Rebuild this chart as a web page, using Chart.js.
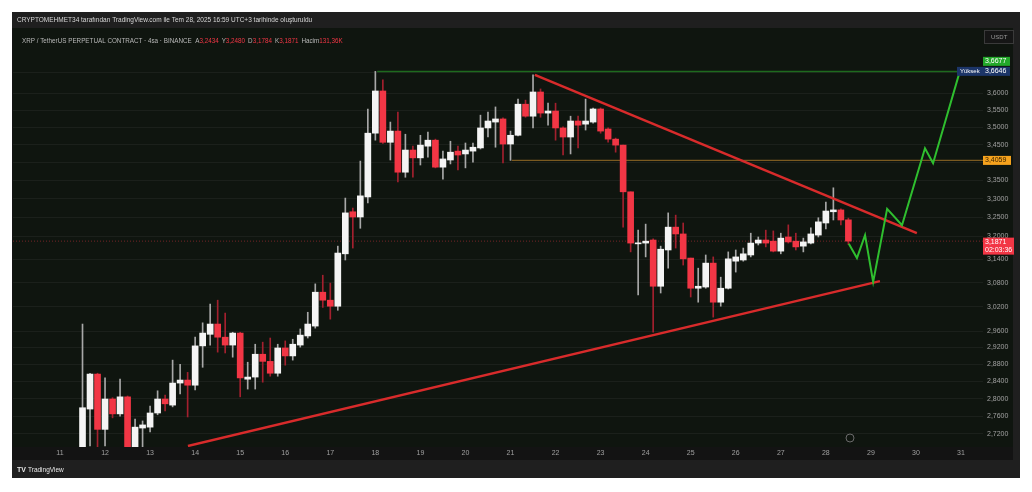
<!DOCTYPE html>
<html>
<head>
<meta charset="utf-8">
<script src="https://cdn.jsdelivr.net/npm/chart.js@4.4.1/dist/chart.umd.min.js"></script>
<style>
html, body { margin: 0; padding: 0; background: #ffffff; }
#wrap { width: 1032px; height: 492px; }
</style>
</head>
<body>
<div id="wrap"><canvas id="xrpChart" width="1032" height="492"></canvas></div>
<script>
// XRP / USDT 4 saatlik mumlar, 11 Tem 12:00 -> 28 Tem 12:00
const firstCandleDay = 11.5;
const candleStep = 1 / 6;

const opens = [
    2.680, 2.776, 2.857, 2.730, 2.799, 2.765, 2.804, 2.686, 2.733, 2.735,
    2.767, 2.799, 2.785, 2.836, 2.843, 2.831, 2.924, 2.952, 2.977, 2.945,
    2.926, 2.955, 2.845, 2.850, 2.904, 2.887, 2.859, 2.919, 2.900, 2.926,
    2.948, 2.972, 3.056, 3.036, 3.021, 3.154, 3.265, 3.251, 3.305, 3.483,
    3.606, 3.457, 3.489, 3.373, 3.435, 3.413, 3.446, 3.463, 3.387, 3.407,
    3.432, 3.424, 3.432, 3.441, 3.498, 3.515, 3.524, 3.452, 3.477, 3.567,
    3.532, 3.603, 3.541, 3.547, 3.498, 3.472, 3.518, 3.509, 3.515, 3.553,
    3.495, 3.466, 3.449, 3.319, 3.180, 3.182, 3.190, 3.071, 3.164, 3.224,
    3.206, 3.143, 3.066, 3.069, 3.130, 3.031, 3.066, 3.135, 3.138, 3.151,
    3.182, 3.190, 3.187, 3.161, 3.198, 3.187, 3.174, 3.182, 3.203, 3.235,
    3.265, 3.270, 3.2434
];
const highs = [
    2.977, 2.859, 2.859, 2.848, 2.802, 2.845, 2.806, 2.753, 2.749, 2.783,
    2.818, 2.808, 2.890, 2.880, 2.861, 2.945, 2.980, 3.026, 3.036, 3.004,
    2.957, 2.957, 2.885, 2.928, 2.933, 2.943, 2.928, 2.936, 2.940, 2.965,
    3.006, 3.077, 3.099, 3.079, 3.174, 3.302, 3.275, 3.404, 3.553, 3.6646,
    3.639, 3.515, 3.544, 3.480, 3.446, 3.477, 3.486, 3.466, 3.432, 3.460,
    3.446, 3.455, 3.455, 3.535, 3.544, 3.559, 3.527, 3.489, 3.582, 3.579,
    3.654, 3.612, 3.570, 3.570, 3.501, 3.532, 3.532, 3.582, 3.556, 3.556,
    3.498, 3.469, 3.449, 3.319, 3.216, 3.232, 3.193, 3.174, 3.262, 3.256,
    3.235, 3.143, 3.117, 3.151, 3.146, 3.094, 3.159, 3.164, 3.169, 3.208,
    3.198, 3.216, 3.214, 3.208, 3.230, 3.208, 3.195, 3.222, 3.249, 3.291,
    3.330, 3.273, 3.2480
];
const lows = [
    2.662, 2.693, 2.691, 2.693, 2.756, 2.760, 2.673, 2.680, 2.691, 2.724,
    2.763, 2.772, 2.781, 2.811, 2.758, 2.820, 2.873, 2.926, 2.909, 2.907,
    2.897, 2.804, 2.822, 2.822, 2.838, 2.852, 2.852, 2.878, 2.890, 2.921,
    2.943, 2.967, 3.018, 2.989, 3.011, 3.138, 3.169, 3.221, 3.289, 3.463,
    3.454, 3.407, 3.346, 3.359, 3.359, 3.393, 3.415, 3.385, 3.354, 3.396,
    3.379, 3.385, 3.401, 3.438, 3.472, 3.443, 3.399, 3.4059, 3.475, 3.529,
    3.498, 3.529, 3.506, 3.463, 3.421, 3.424, 3.441, 3.492, 3.512, 3.483,
    3.457, 3.429, 3.224, 3.159, 3.049, 3.146, 2.957, 3.054, 3.117, 3.169,
    3.125, 3.044, 3.031, 3.066, 2.994, 3.021, 3.064, 3.107, 3.135, 3.146,
    3.177, 3.172, 3.159, 3.154, 3.182, 3.164, 3.159, 3.180, 3.198, 3.219,
    3.243, 3.230, 3.1784
];
const closes = [
    2.779, 2.857, 2.730, 2.799, 2.765, 2.804, 2.684, 2.735, 2.740, 2.767,
    2.799, 2.788, 2.836, 2.843, 2.831, 2.924, 2.955, 2.977, 2.945, 2.926,
    2.955, 2.848, 2.850, 2.904, 2.887, 2.859, 2.919, 2.900, 2.928, 2.950,
    2.977, 3.056, 3.036, 3.021, 3.156, 3.262, 3.251, 3.308, 3.483, 3.606,
    3.457, 3.489, 3.373, 3.435, 3.413, 3.449, 3.463, 3.387, 3.410, 3.429,
    3.421, 3.435, 3.443, 3.498, 3.518, 3.524, 3.452, 3.477, 3.567, 3.532,
    3.603, 3.541, 3.547, 3.498, 3.472, 3.518, 3.506, 3.518, 3.553, 3.489,
    3.466, 3.449, 3.319, 3.182, 3.182, 3.187, 3.071, 3.166, 3.224, 3.206,
    3.141, 3.066, 3.071, 3.130, 3.031, 3.066, 3.141, 3.146, 3.154, 3.182,
    3.190, 3.182, 3.161, 3.195, 3.185, 3.172, 3.185, 3.206, 3.238, 3.267,
    3.270, 3.243, 3.1871
];

// eksen etiketleri
const dayTicks = [11, 12, 13, 14, 15, 16, 17, 18, 19, 20, 21, 22, 23, 24, 25, 26, 27, 28, 29, 30, 31];
const priceTicks = [3.66, 3.60, 3.55, 3.50, 3.45, 3.40, 3.35, 3.30, 3.25, 3.20, 3.14, 3.08, 3.02,
    2.96, 2.92, 2.88, 2.84, 2.80, 2.76, 2.72];

// çizimler
const upperTrendDays = [21.54, 30.02];
const upperTrendPrices = [3.654, 3.208];
const lowerTrendDays = [13.84, 29.20];
const lowerTrendPrices = [2.693, 3.084];
const projectionDays = [28.51, 28.69, 28.87, 29.05, 29.36, 29.69, 30.20, 30.38, 30.98];
const projectionPrices = [3.180, 3.143, 3.203, 3.082, 3.273, 3.229, 3.440, 3.398, 3.6677];

const highLevel = 3.6646;
const highLevelStart = 18.04;
const orangeLevel = 3.4059;
const orangeLevelStart = 21.03;
const lastPrice = 3.1871;
const targetPrice = 3.6677;

const legendValues = { A: '3,2434', Y: '3,2480', D: '3,1784', K: '3,1871', Hacim: '131,36K' };

const X_MIN = 9.957;
const X_MAX = 31.488;
const Y_MIN = 2.6907;
const Y_MAX = 3.7977;

const UP = '#f4f4f4';
const DOWN = '#f23645';
const FONT = "'Liberation Sans', Arial, sans-serif";

function fmt(v) {
    return v.toFixed(4).replace('.', ',');
}

function toPoints(xs, ys) {
    return xs.map((x, i) => ({ x: x, y: ys[i] }));
}

const candleTimes = opens.map((_, i) => firstCandleDay + i * candleStep);
const isUp = opens.map((o, i) => closes[i] >= o);
const bodies = candleTimes.map((t, i) => ({ x: t, y: [opens[i], closes[i]] }));
const wicks = candleTimes.map((t, i) => ({ x: t, y: [lows[i], highs[i]] }));

// arka plan
const backgroundPlugin = {
    id: 'tvBackground',
    beforeDraw(chart) {
        const ctx = chart.ctx;
        const a = chart.chartArea;
        ctx.save();
        ctx.fillStyle = '#ffffff';
        ctx.fillRect(0, 0, chart.width, chart.height);
        ctx.fillStyle = '#1f1f1f';
        ctx.fillRect(12, 12, 1008, 466);
        ctx.fillStyle = '#131313';
        ctx.fillRect(12, 28, 1001, 432);
        ctx.fillStyle = '#0f150f';
        ctx.fillRect(a.left, a.top, 1013 - a.left, a.bottom - a.top);

        ctx.fillStyle = '#d6d6d6';
        ctx.font = '6.5px ' + FONT;
        ctx.textBaseline = 'middle';
        ctx.fillText('CRYPTOMEHMET34 tarafından TradingView.com ile Tem 28, 2025 16:59 UTC+3 tarihinde oluşturuldu', 17, 20);
        ctx.restore();
    }
};

// etiketler ve kutular
const overlayPlugin = {
    id: 'tvOverlay',
    afterDraw(chart) {
        const ctx = chart.ctx;
        const y = chart.scales.y;
        const a = chart.chartArea;
        ctx.save();
        ctx.textBaseline = 'middle';

        // sol üst gösterge
        ctx.font = '6.3px ' + FONT;
        let x = 22;
        const ly = 41;
        ctx.fillStyle = '#b8b8b8';
        const head = 'XRP / TetherUS PERPETUAL CONTRACT · 4sa · BINANCE  ';
        ctx.fillText(head, x, ly);
        x += ctx.measureText(head).width;
        Object.keys(legendValues).forEach(k => {
            ctx.fillStyle = '#b8b8b8';
            ctx.fillText(k, x, ly);
            x += ctx.measureText(k).width;
            ctx.fillStyle = DOWN;
            ctx.fillText(legendValues[k], x, ly);
            x += ctx.measureText(legendValues[k]).width + 3;
        });

        // fiyat kutuları
        const boxX = a.right;
        function priceBox(py, w, h, bg, fg, lines) {
            ctx.fillStyle = bg;
            ctx.fillRect(boxX, py - h / 2, w, h);
            ctx.fillStyle = fg;
            ctx.font = '7px ' + FONT;
            ctx.textAlign = 'left';
            if (lines.length === 1) {
                ctx.fillText(lines[0], boxX + 2, py);
            } else {
                ctx.fillText(lines[0], boxX + 2, py - 4);
                ctx.fillText(lines[1], boxX + 2, py + 4);
            }
        }

        // USDT
        ctx.strokeStyle = '#3a3a3a';
        ctx.fillStyle = '#161616';
        ctx.fillRect(boxX + 1, 30, 29, 13);
        ctx.strokeRect(boxX + 1.5, 30.5, 29, 13);
        ctx.fillStyle = '#9a9a9a';
        ctx.font = '6px ' + FONT;
        ctx.fillText('USDT', boxX + 8, 37);

        priceBox(y.getPixelForValue(targetPrice) - 9, 27, 9, '#22a829', '#ffffff', [fmt(targetPrice)]);
        const hy = y.getPixelForValue(highLevel);
        priceBox(hy, 27, 9, '#1c3568', '#ffffff', [fmt(highLevel)]);
        ctx.fillStyle = '#1c3568';
        ctx.fillRect(boxX - 26, hy - 4.5, 26, 9);
        ctx.fillStyle = '#ffffff';
        ctx.font = '6px ' + FONT;
        ctx.fillText('Yüksek', boxX - 23, hy);

        priceBox(y.getPixelForValue(orangeLevel), 28, 9, '#f5a21d', '#3a2400', [fmt(orangeLevel)]);
        priceBox(y.getPixelForValue(lastPrice) + 5, 31, 17, '#f23645', '#ffffff', [fmt(lastPrice), '02:03:36']);

        // olay ikonu
        ctx.strokeStyle = '#6a6a6a';
        ctx.lineWidth = 1;
        ctx.beginPath();
        ctx.arc(850, 438, 4, 0, Math.PI * 2);
        ctx.stroke();

        // alt çubuk
        ctx.fillStyle = '#e8e8e8';
        ctx.font = 'bold 7px ' + FONT;
        ctx.fillText('TV', 17, 470);
        ctx.font = '6.5px ' + FONT;
        ctx.fillText('TradingView', 28, 470);
        ctx.restore();
    }
};

const lineBase = { type: 'line', pointRadius: 0, tension: 0, fill: false, clip: true };

new Chart(document.getElementById('xrpChart'), {
    type: 'bar',
    data: {
        datasets: [
            { ...lineBase, label: 'projection', data: toPoints(projectionDays, projectionPrices),
              borderColor: '#2fbf2f', borderWidth: 2, order: 0 },
            { ...lineBase, label: 'upper', data: toPoints(upperTrendDays, upperTrendPrices),
              borderColor: '#d82b2b', borderWidth: 2.5, order: 0 },
            { ...lineBase, label: 'lower', data: toPoints(lowerTrendDays, lowerTrendPrices),
              borderColor: '#d82b2b', borderWidth: 2.5, order: 0 },
            { label: 'body', data: bodies, backgroundColor: isUp.map(u => u ? UP : DOWN),
              barThickness: 6, minBarLength: 1, grouped: false, order: 1 },
            { label: 'wick', data: wicks, backgroundColor: isUp.map(u => u ? '#a8a8a8' : '#a3202e'),
              barThickness: 1, grouped: false, order: 2 },
            { ...lineBase, label: 'high', data: toPoints([highLevelStart, X_MAX], [highLevel, highLevel]),
              borderColor: '#1e6a1e', borderWidth: 1.5, order: 3 },
            { ...lineBase, label: 'level', data: toPoints([orangeLevelStart, X_MAX], [orangeLevel, orangeLevel]),
              borderColor: '#7a5a20', borderWidth: 1.2, order: 3 },
            { ...lineBase, label: 'last', data: toPoints([X_MIN, X_MAX], [lastPrice, lastPrice]),
              borderColor: 'rgba(242,54,69,0.45)', borderWidth: 1, borderDash: [1, 2], order: 3 }
        ]
    },
    options: {
        responsive: false,
        animation: false,
        events: [],
        layout: { padding: { left: 13, top: 28, right: 20, bottom: 32 } },
        plugins: {
            legend: { display: false },
            tooltip: { enabled: false }
        },
        scales: {
            x: {
                type: 'linear',
                min: X_MIN,
                max: X_MAX,
                offset: false,
                afterBuildTicks: s => { s.ticks = dayTicks.map(v => ({ value: v })); },
                afterFit: s => { s.height = 13; },
                grid: { display: false, drawTicks: false },
                border: { display: false },
                ticks: {
                    color: '#a0a0a0',
                    font: { size: 7, family: FONT },
                    padding: 2,
                    maxRotation: 0,
                    autoSkip: false,
                    callback: v => String(v)
                }
            },
            y: {
                type: 'logarithmic',
                position: 'right',
                min: Y_MIN,
                max: Y_MAX,
                afterBuildTicks: s => { s.ticks = priceTicks.map(v => ({ value: v })); },
                afterFit: s => { s.width = 29; },
                grid: { color: 'rgba(255,255,255,0.05)', drawTicks: false },
                border: { display: false },
                ticks: {
                    color: '#a0a0a0',
                    font: { size: 7, family: FONT },
                    padding: 4,
                    autoSkip: false,
                    callback: v => fmt(v)
                }
            }
        }
    },
    plugins: [backgroundPlugin, overlayPlugin]
});
</script>
</body>
</html>
